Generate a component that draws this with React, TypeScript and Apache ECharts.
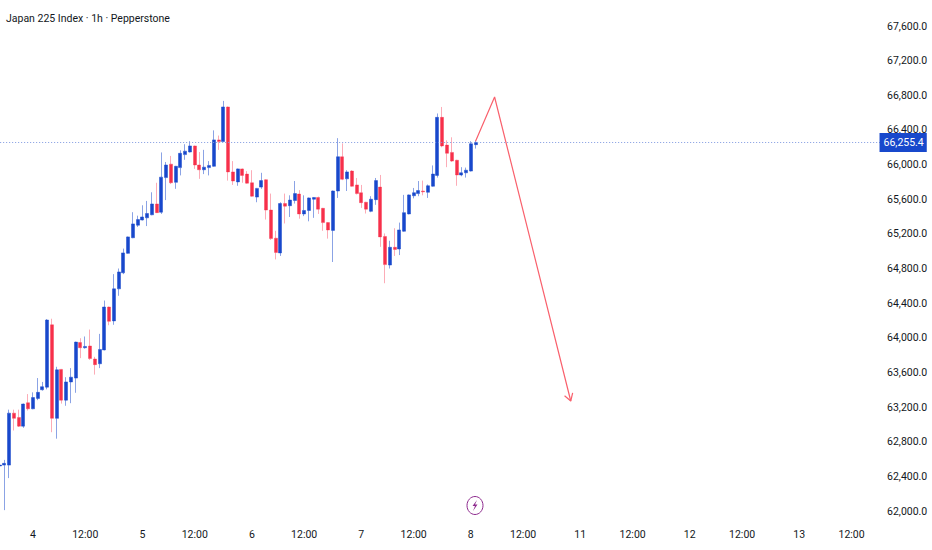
import React, { useEffect, useRef } from "react";
import * as echarts from "echarts";

const chartTitle = "Japan 225 Index · 1h · Pepperstone";
const priceTicksMin = 62000;
const priceTicksMax = 67600;
const priceTickStep = 400;
const lastPrice = 66255.4;
const slotCount = 186;

const timeLabels = ["4", "12:00", "5", "12:00", "6", "12:00", "7", "12:00", "8", "12:00", "11", "12:00", "12", "12:00", "13", "12:00"];
const firstLabelSlot = 7;
const labelSlotOffsets = [0, 11];
const slotsPerDay = 23;

const opens = [
  62520,62530,62530,63130,63080,62980,63250,63180,63300,63400,
  63430,64150,63070,63635,63280,63490,63535,63945,63885,63905,
  63755,63700,63860,64355,64195,64565,64750,64975,65155,65300,
  65360,65385,65420,65545,65450,65850,66005,65795,65965,66115,
  66145,66215,65995,65940,65965,65980,66285,66265,66665,65915,
  65800,65950,65890,65790,65625,65740,65825,65475,65150,64980,
  65550,65525,65585,65660,65430,65470,65600,65620,65495,65330,
  65240,65695,66090,65835,65925,65765,65675,65565,65460,65595,
  65740,65170,64840,65045,65025,65230,65430,65640,65665,65695,
  65680,65750,65875,66545,66225,66140,66050,65880,65905,65925,66230,
];
const closes = [
  62530,62550,63130,63070,62980,63235,63180,63310,63370,63435,
  64205,63070,63630,63280,63490,63545,63950,63885,63900,63760,
  63690,63865,64355,64190,64565,64760,64980,65165,65315,65365,
  65395,65435,65545,65445,65855,65995,65790,65980,66130,66155,
  66215,65995,65940,65970,65990,66285,66265,66665,65915,65810,
  65950,65875,65785,65635,65725,65815,65475,65145,64985,65550,
  65520,65590,65665,65430,65470,65615,65620,65485,65330,65245,
  65695,66090,65830,65915,65750,65665,65560,65485,65600,65815,
  65165,64845,65045,65020,65245,65445,65650,65675,65700,65685,
  65755,65890,66545,66215,66130,66040,65880,65905,65935,66240,66255.4,
];
const highs = [
  62540,62590,63170,63170,63170,63240,63350,63370,63535,63490,
  64215,64220,63665,63640,63545,63650,63955,63995,64015,64095,
  63780,64045,64430,64360,64735,64800,65030,65170,65450,65410,
  65530,65580,65680,65790,66140,66030,66100,65985,66165,66235,
  66270,66220,66145,66170,66040,66395,66335,66735,66670,66040,
  65955,65955,65925,65935,65730,65905,65830,65665,65235,65565,
  65665,65645,65810,65705,65645,65620,65625,65630,65500,65335,
  65700,66305,66245,65935,65935,65845,65765,65570,65635,65845,
  65880,65205,65120,65265,65330,65650,65655,65730,65810,65815,
  65770,65990,66590,66665,66280,66315,66055,65970,65965,66270,66280,
];
const lows = [
  62510,62010,62380,62930,62970,62960,63160,63175,63280,63390,
  63405,62910,62835,63240,63215,63245,63365,63765,63875,63745,
  63575,63650,63855,64145,64150,64485,64735,64970,65150,65280,
  65355,65290,65415,65440,65430,65590,65775,65720,65875,66055,
  66140,65950,65835,65890,65875,65975,66170,66260,65815,65765,
  65755,65790,65780,65630,65565,65720,65365,65130,64905,64945,
  65320,65395,65550,65375,65405,65345,65385,65430,65235,65145,
  64875,65615,65820,65695,65745,65655,65500,65435,65450,65535,
  65050,64630,64800,64945,64955,65225,65425,65610,65635,65645,
  65615,65745,65850,66200,65970,66030,65755,65865,65850,65920,66185,
];

const arrowSlots = [100, 104, 120];
const arrowPrices = [66270, 66780, 63270];
const barbSlots = [118.7, 120, 120.4];
const barbPrices = [63330, 63270, 63365];

const BLUE = "#1848cc";
const RED = "#f7304a";
const BLUE_WICK = "rgba(24,72,204,0.5)";
const RED_WICK = "rgba(247,48,74,0.4)";
const ARROW = "#f9606c";
const TEXT = "#131722";
const FONT = "Roboto, 'Open Sans', sans-serif";
const ICON = "#8e2a8e";

const slotLabels: string[] = Array.from({ length: slotCount }, () => "");
timeLabels.forEach((label, i) => {
  const day = Math.floor(i / labelSlotOffsets.length);
  const slot = firstLabelSlot + day * slotsPerDay + labelSlotOffsets[i % labelSlotOffsets.length];
  slotLabels[slot] = label;
});

const candles = opens.map((o, i) => [o, closes[i], lows[i], highs[i]]);
const pairs = (xs: number[], ys: number[]) => xs.map((x, i) => [x, ys[i]]);

export default function App() {
  const ref = useRef<HTMLDivElement>(null);
  useEffect(() => {
    document.body.style.margin = "0";
    const chart = echarts.init(ref.current!, undefined, { renderer: "svg" });
    chart.setOption({
      animation: false,
      backgroundColor: "#ffffff",
      title: {
        text: chartTitle,
        left: 6,
        top: 13,
        padding: 0,
        textStyle: { fontFamily: FONT, fontSize: 10.5, fontWeight: "normal", color: TEXT },
      },
      grid: { left: -2.83, top: 26, width: 885.36, height: 485, containLabel: false, outerBoundsMode: "none" },
      xAxis: [
        {
          type: "category",
          data: slotLabels,
          boundaryGap: true,
          axisLine: { show: false },
          axisTick: { show: false },
          splitLine: { show: false },
          axisLabel: { interval: 0, color: TEXT, fontFamily: FONT, fontSize: 10.5, margin: 18, hideOverlap: false },
        },
        { type: "value", min: -0.5, max: slotCount - 0.5, show: false },
      ],
      yAxis: {
        type: "value",
        position: "right",
        min: priceTicksMin,
        max: priceTicksMax,
        interval: priceTickStep,
        axisLine: { show: false },
        axisTick: { show: false },
        splitLine: { show: false },
        axisLabel: {
          color: TEXT,
          fontFamily: FONT,
          fontSize: 10.5,
          margin: 4.5,
          align: "left",
          formatter: (v: number) =>
            v.toLocaleString("en-US", { minimumFractionDigits: 1, maximumFractionDigits: 1 }),
        },
      },
      series: [
        {
          type: "candlestick",
          data: candles,
          barWidth: 3.5,
          itemStyle: {
            color: BLUE,
            color0: RED,
            borderColor: BLUE_WICK,
            borderColor0: RED_WICK,
            borderWidth: 1,
          },
          markLine: {
            silent: true,
            symbol: "none",
            data: [{ yAxis: lastPrice }],
            lineStyle: { color: "#7f99e0", type: [1, 2], width: 1 },
            label: {
              position: "end",
              distance: -3,
              formatter: () =>
                lastPrice.toLocaleString("en-US", { minimumFractionDigits: 1 }),
              backgroundColor: BLUE,
              color: "#ffffff",
              fontFamily: FONT,
              fontSize: 10.5,
              padding: [4, 3, 4, 4],
            },
          },
        },
        {
          type: "line",
          xAxisIndex: 1,
          data: pairs(arrowSlots, arrowPrices),
          showSymbol: false,
          lineStyle: { color: ARROW, width: 1.2 },
        },
        {
          type: "line",
          xAxisIndex: 1,
          data: pairs(barbSlots, barbPrices),
          showSymbol: false,
          lineStyle: { color: ARROW, width: 1.2 },
        },
      ],
      graphic: [
        {
          type: "ellipse",
          shape: { cx: 475, cy: 505.5, rx: 8, ry: 9 },
          style: { fill: "#ffffff", stroke: ICON, lineWidth: 1 },
        },
        {
          type: "polygon",
          shape: { points: [[477, 500], [472.5, 506], [475, 506], [473, 511], [477.5, 504.5], [475, 504.5]] },
          style: { fill: ICON },
        },
      ],
    });
    return () => chart.dispose();
  }, []);
  return <div ref={ref} style={{ width: 932, height: 550 }} />;
}
